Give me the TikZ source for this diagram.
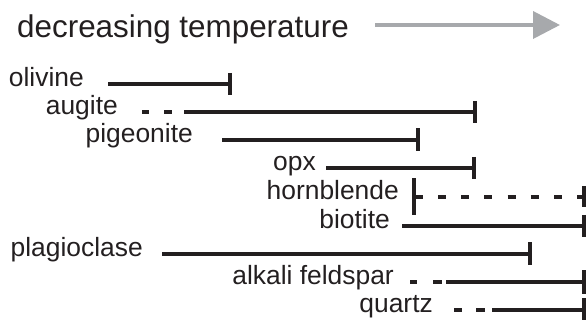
\documentclass[tikz,border=0pt]{standalone}
\usepackage{fontspec}
\setmainfont{Liberation Sans}
\usetikzlibrary{arrows.meta}
\definecolor{ink}{HTML}{231F20}
\definecolor{arrowgray}{HTML}{A7A9AC}
\tikzset{
  lab/.style={anchor=mid east, inner sep=0pt, text=ink, font=\fontsize{26.4}{31}\selectfont},
  ttl/.style={anchor=base west, inner sep=0pt, text=ink, font=\fontsize{31.4}{36}\selectfont},
  rng/.style={draw=ink, line width=3.6pt},
  dsh/.style={draw=ink, line width=3.6pt, dash pattern=on 8pt off 15.2pt},
  tk/.style={draw=ink, line width=3.6pt},
  tarrow/.style={draw=arrowgray, line width=3.8pt, -{Triangle[length=27pt,width=27pt,fill=arrowgray]}}
}
\begin{document}
\begin{tikzpicture}[x=1pt,y=-1pt]
\useasboundingbox (0,0) rectangle (586,320);
% title
\node[ttl] (title) at (17,38) {decreasing temperature};
\coordinate (arrS) at (375,25);
\coordinate (arrE) at (560,25);
\draw[tarrow] (arrS) -- (arrE);
% olivine
\node[lab] (olivine) at (84,84) {olivine};
\coordinate (olS) at (108,84); \coordinate (olE) at (230,84);
\draw[rng] (olS) -- (olE);
\draw[tk] (olE) ++(0,-11) -- ++(0,22);
% augite
\node[lab] (augite) at (118,112) {augite};
\coordinate (auD1) at (142,112); \coordinate (auD1e) at (149,112);
\coordinate (auD2) at (164,112); \coordinate (auD2e) at (172,112);
\coordinate (auS) at (184,112); \coordinate (auE) at (475,112);
\draw[rng] (auD1) -- (auD1e);
\draw[rng] (auD2) -- (auD2e);
\draw[rng] (auS) -- (auE);
\draw[tk] (auE) ++(0,-11) -- ++(0,22);
% pigeonite
\node[lab] (pigeonite) at (193,140) {pigeonite};
\coordinate (piS) at (222,140); \coordinate (piE) at (418,140);
\draw[rng] (piS) -- (piE);
\draw[tk] (piE) ++(0,-11.5) -- ++(0,23);
% opx
\node[lab] (opx) at (316,168) {opx};
\coordinate (opS) at (326,168); \coordinate (opE) at (474,168);
\draw[rng] (opS) -- (opE);
\draw[tk] (opE) ++(0,-11) -- ++(0,22);
% hornblende
\node[lab] (hornblende) at (399,197) {hornblende};
\coordinate (hbS) at (414,197); \coordinate (hbS2) at (423,197);
\coordinate (hbD) at (438,197); \coordinate (hbE) at (584,197);
\draw[tk] (hbS) ++(0,-18.5) -- ++(0,37);
\draw[rng] (hbS) -- (hbS2);
\draw[dsh] (hbD) -- (hbE);
\draw[tk] (hbE) ++(0,-10.5) -- ++(0,21);
% biotite
\node[lab] (biotite) at (390,226) {biotite};
\coordinate (biS) at (402,226); \coordinate (biE) at (584,226);
\draw[rng] (biS) -- (biE);
\draw[tk] (biE) ++(0,-11) -- ++(0,22);
% plagioclase
\node[lab] (plagioclase) at (143,254) {plagioclase};
\coordinate (plS) at (162,254); \coordinate (plE) at (530,254);
\draw[rng] (plS) -- (plE);
\draw[tk] (plE) ++(0,-11.5) -- ++(0,23);
% alkali feldspar
\node[lab] (alkali) at (394,282) {alkali feldspar};
\coordinate (akD1) at (410,282); \coordinate (akD1e) at (417,282);
\coordinate (akD2) at (433,282); \coordinate (akD2e) at (442,282);
\coordinate (akS) at (446,282); \coordinate (akE) at (584,282);
\draw[rng] (akD1) -- (akD1e);
\draw[rng] (akD2) -- (akD2e);
\draw[rng] (akS) -- (akE);
\draw[tk] (akE) ++(0,-11.5) -- ++(0,23);
% quartz
\node[lab] (quartz) at (433,310) {quartz};
\coordinate (qzD1) at (454,310); \coordinate (qzD1e) at (462,310);
\coordinate (qzD2) at (476,310); \coordinate (qzD2e) at (485,310);
\coordinate (qzS) at (492,310); \coordinate (qzE) at (584,310);
\draw[rng] (qzD1) -- (qzD1e);
\draw[rng] (qzD2) -- (qzD2e);
\draw[rng] (qzS) -- (qzE);
\draw[tk] (qzE) ++(0,-12) -- ++(0,24);
\end{tikzpicture}
\end{document}
